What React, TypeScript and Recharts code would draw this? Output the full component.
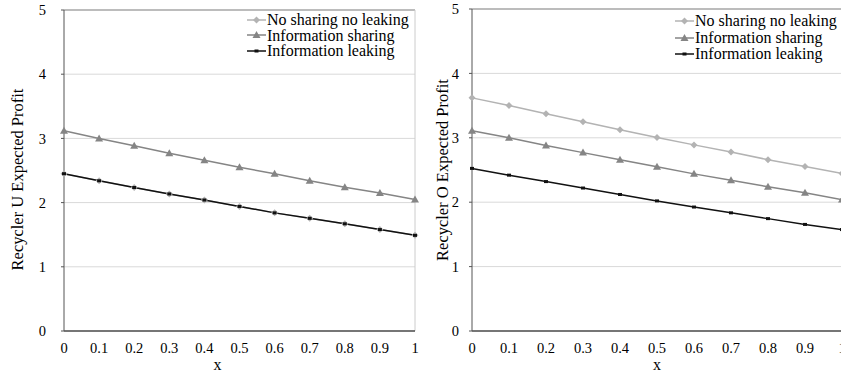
import React from "react";
import { CartesianGrid, Line, LineChart, ReferenceLine, XAxis, YAxis } from "recharts";

const xValues = [0, 0.1, 0.2, 0.3, 0.4, 0.5, 0.6, 0.7, 0.8, 0.9, 1];
const yTicks = [0, 1, 2, 3, 4, 5];

// Recycler U
const uNoSharing = [2.45, 2.34, 2.235, 2.135, 2.04, 1.94, 1.84, 1.755, 1.67, 1.58, 1.49];
const uSharing = [3.12, 3.0, 2.885, 2.77, 2.66, 2.55, 2.45, 2.34, 2.24, 2.15, 2.05];
const uLeaking = [2.45, 2.34, 2.235, 2.135, 2.04, 1.94, 1.84, 1.755, 1.67, 1.58, 1.49];

// Recycler O
const oNoSharing = [3.62, 3.5, 3.375, 3.25, 3.125, 3.005, 2.89, 2.78, 2.66, 2.555, 2.445];
const oSharing = [3.11, 3.0, 2.88, 2.77, 2.66, 2.55, 2.44, 2.34, 2.24, 2.145, 2.04];
const oLeaking = [2.525, 2.42, 2.32, 2.22, 2.12, 2.02, 1.925, 1.835, 1.745, 1.655, 1.575];

const seriesNames = ["No sharing no leaking", "Information sharing", "Information leaking"];
const seriesKeys = ["noSharing", "sharing", "leaking"];
const seriesColors = ["#b3b3b3", "#858585", "#111111"];

const font = '"Liberation Serif", "Times New Roman", serif';

function buildRows(noSharing: number[], sharing: number[], leaking: number[]) {
  return xValues.map((x, i) => ({ x, noSharing: noSharing[i], sharing: sharing[i], leaking: leaking[i] }));
}

function Marker({ kind, cx, cy }: { kind: number; cx: number; cy: number }) {
  if (kind === 0) {
    return <path d={`M${cx},${cy - 3.5} L${cx + 3.5},${cy} L${cx},${cy + 3.5} L${cx - 3.5},${cy} Z`} fill={seriesColors[0]} />;
  }
  if (kind === 1) {
    return <path d={`M${cx},${cy - 4} L${cx + 4},${cy + 3} L${cx - 4},${cy + 3} Z`} fill={seriesColors[1]} />;
  }
  return <rect x={cx - 2} y={cy - 1.5} width={4} height={3} fill={seriesColors[2]} />;
}

function dotFor(kind: number) {
  return (props: any) => {
    const { cx, cy, index } = props;
    if (cx == null || cy == null) return <g key={`d${kind}-${index}`} />;
    return (
      <g key={`d${kind}-${index}`}>
        <Marker kind={kind} cx={cx} cy={cy} />
      </g>
    );
  };
}

function LegendBox({ left, top, rowHeight }: { left: number; top: number; rowHeight: number }) {
  return (
    <div style={{ position: "absolute", left, top, fontFamily: font, fontSize: 16, color: "#000" }}>
      {seriesNames.map((name, i) => (
        <div key={name} style={{ display: "flex", alignItems: "center", height: rowHeight, lineHeight: `${rowHeight}px`, whiteSpace: "nowrap" }}>
          <svg width={19} height={10} style={{ marginRight: 1 }}>
            <line x1={0} y1={5} x2={19} y2={5} stroke={seriesColors[i]} strokeWidth={1.5} />
            <Marker kind={i} cx={9.5} cy={5} />
          </svg>
          <span>{name}</span>
        </div>
      ))}
    </div>
  );
}

type ChartProps = {
  rows: any[];
  width: number;
  top: number;
  right: number;
  yAxisWidth: number;
  yTickMargin: number;
  yLabel: string;
  yLabelDx: number;
  yLabelDy: number;
  xLabelDx: number;
};

function ProfitChart(p: ChartProps) {
  return (
    <LineChart width={p.width} height={376} data={p.rows} margin={{ top: p.top, right: p.right, bottom: 0, left: 0 }}>
      <CartesianGrid vertical={false} stroke="#d9d9d9" />
      <ReferenceLine y={5} stroke="#8c8c8c" />
      <ReferenceLine x={1} stroke="#cccccc" />
      <XAxis
        dataKey="x"
        type="number"
        domain={[0, 1]}
        ticks={xValues}
        height={45}
        tickSize={0}
        tickMargin={12}
        stroke="#000"
        tick={{ fill: "#000", fontSize: 14.5, fontFamily: font }}
        label={{
          content: (props: any) => {
            const vb = props.viewBox;
            return (
              <text x={vb.x + vb.width / 2 + p.xLabelDx} y={370} textAnchor="middle" fontFamily={font} fontSize={16} fill="#000">
                x
              </text>
            );
          },
        }}
      />
      <YAxis
        type="number"
        domain={[0, 5]}
        ticks={yTicks}
        width={p.yAxisWidth}
        tickSize={3}
        tickMargin={p.yTickMargin}
        stroke="#555"
        tick={{ fill: "#000", fontSize: 14.5, fontFamily: font }}
        label={{
          content: (props: any) => {
            const vb = props.viewBox;
            const cx = vb.x + p.yLabelDx;
            const cy = vb.y + vb.height / 2 + p.yLabelDy;
            return (
              <text x={cx} y={cy} transform={`rotate(-90, ${cx}, ${cy})`} textAnchor="middle" dominantBaseline="central" fontFamily={font} fontSize={16.5} fill="#000">
                {p.yLabel}
              </text>
            );
          },
        }}
      />
      {seriesKeys.map((key, i) => (
        <Line
          key={key}
          dataKey={key}
          type="linear"
          stroke={seriesColors[i]}
          strokeWidth={1.5}
          dot={dotFor(i)}
          activeDot={false}
          isAnimationActive={false}
        />
      ))}
    </LineChart>
  );
}

export default function App() {
  const uRows = buildRows(uNoSharing, uSharing, uLeaking);
  const oRows = buildRows(oNoSharing, oSharing, oLeaking);
  return (
    <div style={{ position: "absolute", left: 0, top: 0, width: 841, height: 376, overflow: "hidden", background: "#fff" }}>
      <div style={{ position: "absolute", left: 0, top: 0 }}>
        <ProfitChart rows={uRows} width={420} top={10} right={5} yAxisWidth={64} yTickMargin={15} yLabel="Recycler U Expected Profit" yLabelDx={17} yLabelDy={9} xLabelDx={-22} />
      </div>
      <div style={{ position: "absolute", left: 420, top: 0 }}>
        <ProfitChart rows={oRows} width={430} top={9} right={8} yAxisWidth={52} yTickMargin={10} yLabel="Recycler O Expected Profit" yLabelDx={22} yLabelDy={0} xLabelDx={0} />
      </div>
      <LegendBox left={247} top={12} rowHeight={15.5} />
      <LegendBox left={675} top={13} rowHeight={16.5} />
    </div>
  );
}
